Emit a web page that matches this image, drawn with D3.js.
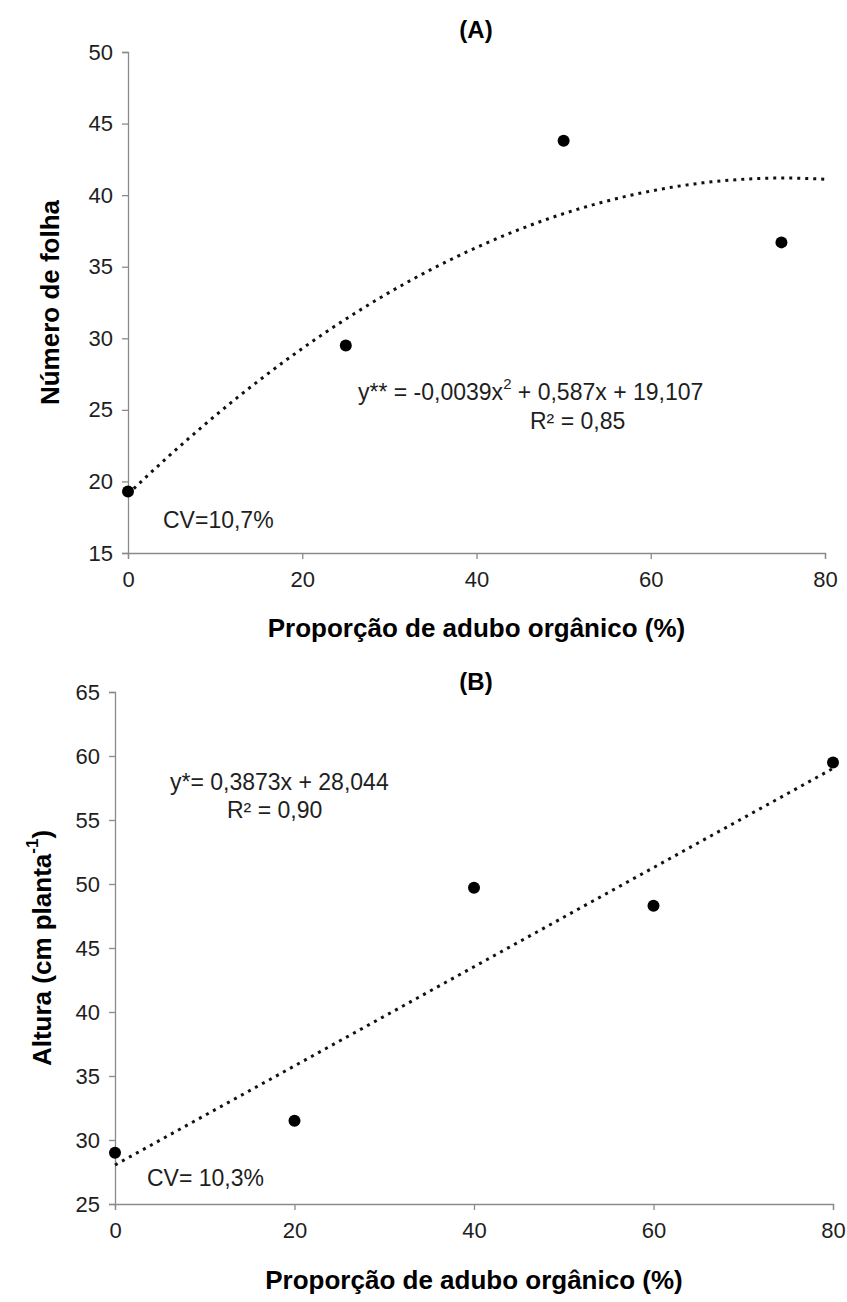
<!DOCTYPE html>
<html>
<head>
<meta charset="utf-8">
<script src="https://cdn.jsdelivr.net/npm/d3@7"></script>
<style>
  html, body { margin: 0; padding: 0; background: #fff; }
  svg text { font-family: "Liberation Sans", Arial, sans-serif; }
</style>
</head>
<body>
<svg id="chart" width="847" height="1302"></svg>
<script>
// ---- Data ----
const xTicks = [0, 20, 40, 60, 80];

// Panel A: Número de folha
const xA = [0, 25, 50, 75];
const yA = [19.3, 29.5, 43.8, 36.7];
const yTicksA = [15, 20, 25, 30, 35, 40, 45, 50];
const fitA = [-0.0039, 0.587, 19.107]; // a x^2 + b x + c

// Panel B: Altura
const xB = [0, 20, 40, 60, 80];
const yB = [29.0, 31.5, 49.7, 48.3, 59.5];
const yTicksB = [25, 30, 35, 40, 45, 50, 55, 60, 65];
const fitB = [0.3873, 28.044]; // b x + c

const svg = d3.select("#chart");
const axisColor = "#8a8a8a";
const textColor = "#1e1e1e";

function panel(cfg) {
  const x = d3.scaleLinear().domain([0, 80]).range([cfg.left, cfg.right]);
  const y = d3.scaleLinear().domain(cfg.yDomain).range([cfg.bottom, cfg.top]);
  const g = svg.append("g");

  const gx = g.append("g").attr("transform", `translate(0,${cfg.bottom})`)
    .call(d3.axisBottom(x).tickValues(xTicks).tickSize(6).tickPadding(12).tickFormat(d3.format("d")));
  const gy = g.append("g").attr("transform", `translate(${cfg.left},0)`)
    .call(d3.axisLeft(y).tickValues(cfg.yTicks).tickSize(6).tickPadding(9).tickFormat(d3.format("d")));
  [gx, gy].forEach(a => {
    a.selectAll("path, line").attr("stroke", axisColor).attr("stroke-width", 1.3);
    a.selectAll("text").attr("fill", textColor).style("font-size", "22px");
  });

  // trend line
  const line = d3.line().x(d => x(d[0])).y(d => y(d[1]));
  g.append("path")
    .attr("d", line(cfg.trend))
    .attr("fill", "none")
    .attr("stroke", "#111")
    .attr("stroke-width", 3)
    .attr("stroke-dasharray", "3 5");

  // points
  g.selectAll("circle").data(cfg.xs.map((v, i) => [v, cfg.ys[i]])).enter()
    .append("circle")
    .attr("cx", d => x(d[0])).attr("cy", d => y(d[1])).attr("r", 6)
    .attr("fill", "#000");

  // panel title
  g.append("text").attr("x", cfg.titleX).attr("y", cfg.titleY)
    .attr("text-anchor", "middle").attr("dominant-baseline", "central")
    .style("font-size", "24px").style("font-weight", "bold").attr("fill", "#000")
    .text(cfg.title);

  // x-axis title
  g.append("text").attr("x", (cfg.left + cfg.right) / 2 + 0).attr("y", cfg.xTitleY)
    .attr("text-anchor", "middle").attr("dominant-baseline", "central")
    .style("font-size", "26px").style("font-weight", "bold").attr("fill", "#000")
    .text("Proporção de adubo orgânico (%)");

  // y-axis title
  const yt = g.append("text")
    .attr("transform", `translate(${cfg.yTitleX},${(cfg.top + cfg.bottom) / 2}) rotate(-90)`)
    .attr("text-anchor", "middle").attr("dominant-baseline", "central")
    .style("font-size", "26px").style("font-weight", "bold").attr("fill", "#000");
  cfg.yTitle(yt);

  // annotations
  cfg.notes.forEach(n => {
    const t = g.append("text").attr("x", n.x).attr("y", n.y)
      .attr("dominant-baseline", "central")
      .style("font-size", "23px").attr("fill", textColor);
    n.build(t);
  });
}

// trend curves from the displayed regression equations
const trendA = d3.range(0, 80.01, 1).map(v => [v, fitA[0] * v * v + fitA[1] * v + fitA[2]]);
const trendB = [0, 80].map(v => [v, fitB[0] * v + fitB[1]]);

panel({
  left: 128, right: 825, top: 52, bottom: 553,
  yDomain: [15, 50], yTicks: yTicksA,
  xs: xA, ys: yA, trend: trendA,
  title: "(A)", titleX: 476, titleY: 29,
  xTitleY: 628, yTitleX: 50,
  yTitle: t => t.text("Número de folha"),
  notes: [
    { x: 358, y: 392, build: t => {
        t.append("tspan").text("y** = -0,0039x");
        t.append("tspan").attr("baseline-shift", "super").style("font-size", "15px").text("2");
        t.append("tspan").text(" + 0,587x + 19,107");
      } },
    { x: 530, y: 421, build: t => t.text("R² = 0,85") },
    { x: 163, y: 520, build: t => t.text("CV=10,7%") }
  ]
});

panel({
  left: 115, right: 833, top: 692, bottom: 1204,
  yDomain: [25, 65], yTicks: yTicksB,
  xs: xB, ys: yB, trend: trendB,
  title: "(B)", titleX: 476, titleY: 681,
  xTitleY: 1280, yTitleX: 42,
  yTitle: t => {
    t.append("tspan").text("Altura (cm planta");
    t.append("tspan").attr("baseline-shift", "super").style("font-size", "17px").text("-1");
    t.append("tspan").text(")");
  },
  notes: [
    { x: 170, y: 782, build: t => t.text("y*= 0,3873x + 28,044") },
    { x: 227, y: 810, build: t => t.text("R² = 0,90") },
    { x: 147, y: 1178, build: t => t.text("CV= 10,3%") }
  ]
});
</script>
</body>
</html>
